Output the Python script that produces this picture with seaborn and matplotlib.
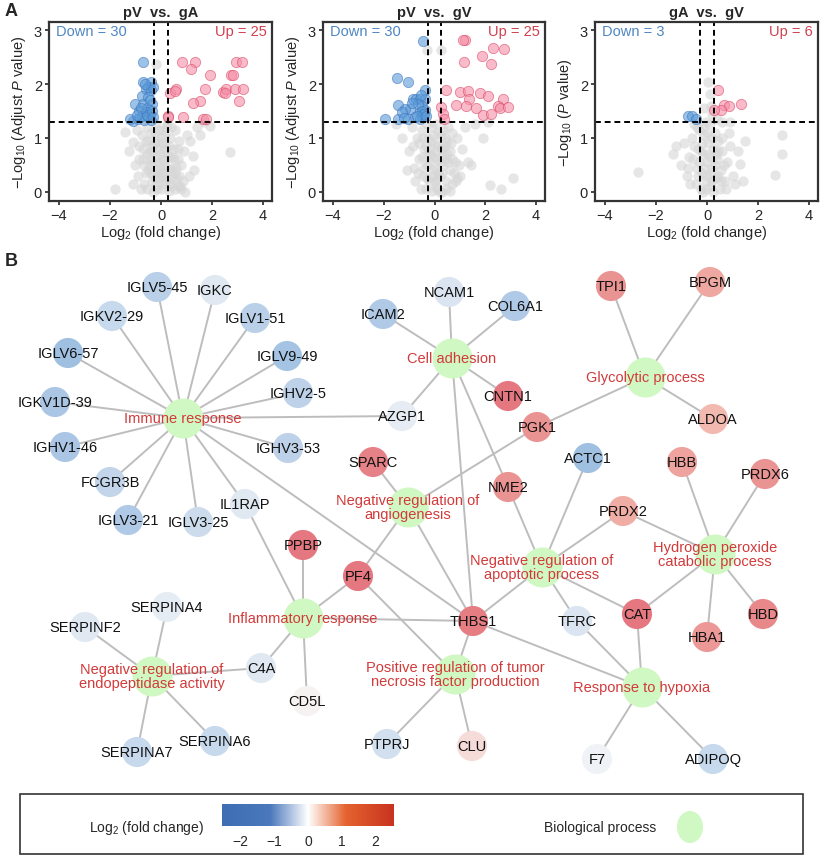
import numpy as np
import pandas as pd
import seaborn as sns
import matplotlib.pyplot as plt
from matplotlib.colors import LinearSegmentedColormap, Normalize
from matplotlib.cm import ScalarMappable
from matplotlib.patches import Rectangle, Ellipse

# ---------- DATA: volcano plots (log2 fold change, -log10 p) ----------
pva_down = [(-0.7, 2.4), (-0.7, 2.03), (-0.4, 2.03), (-0.5, 1.95), (-0.6, 1.9), (-0.4, 1.88),
            (-0.75, 1.78), (-0.5, 1.75), (-1.0, 1.63), (-0.7, 1.62), (-0.35, 1.62), (-0.55, 1.55),
            (-0.85, 1.5), (-0.6, 1.48), (-0.45, 1.45), (-1.1, 1.32), (-0.75, 1.4), (-0.5, 1.38),
            (-0.9, 1.35), (-0.65, 1.33), (-0.4, 1.33), (-0.55, 1.42), (-0.35, 1.5), (-0.8, 1.55),
            (-1.2, 1.35), (-0.3, 1.95), (-0.62, 2.0), (-0.45, 1.7), (-0.95, 1.42), (-0.3, 1.38)]
pva_up = [(0.84, 2.4), (1.32, 2.4), (1.19, 2.27), (2.95, 2.4), (3.19, 2.4), (1.91, 2.16),
          (2.76, 2.17), (2.82, 2.17), (0.34, 1.84), (0.6, 1.9), (0.54, 1.87), (1.71, 1.9),
          (2.43, 1.85), (2.56, 1.9), (2.89, 1.9), (3.22, 1.9), (2.52, 1.83), (1.52, 1.68),
          (1.25, 1.64), (3.06, 1.68), (0.27, 1.41), (0.86, 1.38), (1.65, 1.35), (1.78, 1.35),
          (0.27, 1.38)]
pva_ns = [(-0.18, 2.38), (-1.82, 0.06), (-1.42, 1.11), (-1.1, 0.92), (-1.25, 0.75), (-0.95, 1.15),
          (-0.85, 0.85), (-0.75, 1.05), (-0.7, 0.6), (-0.6, 0.95), (-0.55, 1.2), (-0.5, 0.4),
          (-0.45, 0.75), (-0.4, 1.1), (-0.35, 0.2), (-0.3, 0.55), (-0.25, 0.9), (-0.2, 1.25),
          (-0.15, 0.05), (-0.1, 0.35), (-0.05, 0.7), (0.0, 1.0), (0.05, 0.15), (0.1, 0.5),
          (0.15, 0.85), (0.2, 1.2), (0.25, 0.3), (0.3, 0.65), (0.35, 1.0), (0.4, 0.1),
          (0.45, 0.45), (0.5, 0.8), (0.55, 1.15), (0.6, 0.25), (0.65, 0.6), (0.7, 0.95),
          (0.8, 0.49), (0.93, 0.0), (1.25, 0.67), (1.52, 1.05), (1.91, 1.23), (2.69, 0.73),
          (1.1, 0.3), (1.4, 1.2), (0.85, 0.2), (-0.9, 0.3), (-1.0, 0.5), (-0.65, 0.15),
          (-0.8, 0.05), (-0.55, 0.05), (-0.3, 0.0), (0.0, 0.05), (0.3, 0.02), (0.55, 0.05),
          (0.75, 0.1), (-0.4, 0.6), (-0.2, 0.4), (0.1, 0.8), (-0.1, 1.15), (0.25, 0.7),
          (-0.6, 0.35), (0.45, 0.25), (0.2, 0.45), (-0.05, 0.25), (0.6, 0.45), (0.7, 0.3),
          (-0.35, 0.85), (0.05, 0.6), (-0.15, 0.65), (0.35, 0.4), (0.9, 0.75), (1.0, 1.05),
          (-0.7, 0.8), (0.15, 1.05), (-0.25, 1.1), (0.4, 1.2), (1.7, 1.3), (1.15, 0.95),
          (-1.1, 0.15), (-0.45, 0.5), (0.5, 0.6), (-0.05, 0.45), (0.65, 0.1), (0.0, 0.3),
          (-0.5, 0.95), (-0.3, 0.75), (-0.15, 0.95), (0.05, 0.35), (0.15, 0.2), (0.3, 0.85),
          (0.45, 0.65), (-0.25, 0.25), (-0.4, 0.35), (0.1, 1.15), (-0.1, 0.55), (0.2, 0.6),
          (0.55, 0.35), (-0.55, 0.7), (0.35, 0.15), (-0.2, 0.1), (0.05, 0.9), (0.65, 0.8),
          (-0.65, 0.5), (0.25, 1.25), (1.3, 0.4), (-0.85, 0.6), (0.8, 0.05), (-0.1, 0.8)]

pvv_down = [(-0.44, 2.8), (-1.46, 2.11), (-1.03, 2.04), (-0.38, 1.89), (-0.84, 1.73), (-0.71, 1.73),
            (-0.58, 1.73), (-0.38, 1.73), (-1.42, 1.61), (-0.97, 1.54), (-0.48, 1.6), (-0.58, 1.48),
            (-0.51, 1.43), (-1.95, 1.35), (-1.42, 1.36), (-1.03, 1.35), (-0.77, 1.38), (-0.44, 1.38),
            (-0.58, 1.35), (-0.38, 1.52), (-1.16, 1.54), (-1.29, 1.48), (-0.65, 1.62), (-0.9, 1.65),
            (-0.5, 1.5), (-0.42, 1.45), (-0.7, 1.4), (-1.2, 1.37), (-0.55, 1.8), (-0.33, 1.4)]
pvv_up = [(1.19, 2.82), (1.12, 2.82), (1.15, 2.41), (1.88, 2.52), (2.24, 2.37), (2.3, 2.67),
          (2.73, 2.64), (0.47, 1.89), (0.99, 1.86), (1.32, 1.87), (1.36, 1.73), (1.78, 1.83),
          (2.1, 1.78), (2.69, 1.73), (0.84, 1.61), (1.23, 1.6), (1.65, 1.55), (1.91, 1.43),
          (2.24, 1.44), (2.5, 1.59), (2.59, 1.55), (2.89, 1.57), (0.27, 1.57), (0.34, 1.44),
          (0.38, 1.36)]
pvv_ns = [(-0.29, 2.63), (0.27, 2.63), (3.08, 0.25), (2.63, 0.06), (2.17, 0.12), (1.45, 0.49),
          (-1.29, 0.99), (-1.0, 0.75), (-0.9, 1.2), (-1.5, 1.25), (-0.8, 0.45), (-0.7, 1.0),
          (-0.6, 0.6), (-0.5, 1.15), (-0.45, 0.3), (-0.4, 0.8), (-0.35, 0.05), (-0.3, 0.5),
          (-0.25, 1.0), (-0.2, 0.2), (-0.15, 0.7), (-0.1, 1.2), (-0.05, 0.4), (0.0, 0.9),
          (0.05, 0.1), (0.1, 0.6), (0.15, 1.1), (0.2, 0.3), (0.25, 0.8), (0.3, 0.0),
          (0.35, 0.5), (0.4, 1.0), (0.45, 0.2), (0.5, 0.7), (0.55, 1.2), (0.6, 0.4),
          (0.65, 0.9), (0.7, 0.15), (0.8, 0.55), (0.9, 1.0), (1.0, 0.3), (1.1, 0.8),
          (1.2, 1.2), (1.3, 0.55), (0.75, 0.35), (-0.55, 0.05), (-0.75, 0.2), (0.6, 0.02),
          (0.45, 0.05), (0.2, 0.0), (-0.1, 0.02), (-0.6, 0.9), (0.3, 0.65), (-0.2, 0.55),
          (0.05, 0.75), (-0.4, 0.45), (0.15, 0.35), (0.55, 0.55), (-0.05, 1.05), (0.35, 1.15),
          (0.95, 0.5), (1.6, 1.25), (1.9, 1.0), (2.1, 1.3), (-0.3, 1.25), (0.7, 1.1),
          (-1.1, 0.4), (0.85, 0.2), (0.4, 0.85), (-0.15, 0.95), (0.0, 0.45), (0.1, 0.25),
          (-0.5, 0.65), (0.25, 1.05), (0.6, 0.75), (-0.35, 0.85), (-0.2, 0.8), (0.0, 0.2),
          (0.15, 0.85), (-0.45, 1.0), (-0.1, 0.3), (0.3, 0.35), (0.45, 0.6), (-0.3, 0.25),
          (0.05, 1.25), (0.2, 0.55), (-0.05, 0.65), (0.5, 0.95), (-0.65, 0.35), (0.1, 0.05),
          (0.35, 0.8), (-0.25, 0.7), (0.7, 0.6), (-0.85, 0.85), (0.9, 0.25)]

gvv_down = [(-0.76, 1.41), (-0.57, 1.4), (-0.43, 1.36)]
gvv_up = [(0.42, 1.88), (0.68, 1.61), (0.88, 1.6), (1.34, 1.62), (0.55, 1.52), (0.29, 1.51)]
gvv_ns = [(0.03, 2.03), (0.1, 1.82), (-0.1, 1.55), (0.15, 1.6), (0.2, 1.45), (-2.7, 0.36),
          (-1.35, 0.71), (2.92, 1.05), (2.95, 0.71), (2.66, 0.31), (1.47, 0.94), (1.28, 0.52),
          (0.9, 1.3), (0.6, 1.3), (-0.9, 0.9), (-1.0, 0.5), (-0.8, 0.3), (-0.7, 0.65),
          (-0.6, 1.0), (-0.5, 1.25), (-0.45, 0.15), (-0.4, 0.45), (-0.35, 0.8), (-0.3, 1.15),
          (-0.25, 0.05), (-0.2, 0.35), (-0.15, 0.7), (-0.1, 1.05), (-0.05, 0.2), (0.0, 0.55),
          (0.05, 0.9), (0.1, 1.25), (0.15, 0.1), (0.2, 0.45), (0.25, 0.8), (0.3, 1.1),
          (0.35, 0.25), (0.4, 0.6), (0.45, 0.95), (0.5, 0.05), (0.55, 0.4), (0.6, 0.75),
          (0.7, 0.2), (0.8, 0.55), (0.9, 0.85), (1.0, 0.3), (1.1, 0.15), (0.75, 0.05),
          (-0.55, 0.6), (-0.15, 0.0), (0.25, 0.0), (0.0, 0.3), (-0.3, 0.55), (0.35, 0.7),
          (0.1, 0.65), (-0.2, 0.9), (0.2, 1.0), (0.45, 0.3), (-0.65, 0.15), (0.65, 0.5),
          (-1.2, 0.85), (1.2, 0.75), (0.85, 1.1), (-0.05, 1.3), (0.4, 1.35), (-0.4, 1.2),
          (1.4, 0.2), (-0.35, 0.3), (-0.1, 0.45), (0.05, 0.7), (0.2, 0.2), (0.3, 0.5),
          (-0.25, 0.75), (0.0, 1.1), (-0.5, 0.85), (0.15, 0.35), (0.55, 0.2), (-0.75, 0.45),
          (0.45, 0.75), (-0.15, 1.2), (0.6, 1.0), (-0.05, 0.05)]

volcano_titles = ["pV  vs.  gA", "pV  vs.  gV", "gA  vs.  gV"]
volcano_ylabels = [r"$-$Log$_{10}$ (Adjust $\it{P}$ value)",
                   r"$-$Log$_{10}$ (Adjust $\it{P}$ value)",
                   r"$-$Log$_{10}$ ($\it{P}$ value)"]
down_counts = [30, 30, 3]
up_counts = [25, 25, 6]

# ---------- DATA: network (layout positions + log2 fold change) ----------
gene_names = ["IGLV5-45", "IGKC", "IGKV2-29", "IGLV1-51", "IGLV6-57", "IGLV9-49", "IGKV1D-39",
              "IGHV2-5", "IGHV1-46", "IGHV3-53", "FCGR3B", "IGLV3-21", "IGLV3-25", "IL1RAP",
              "ICAM2", "AZGP1", "SPARC", "NCAM1", "COL6A1", "CNTN1", "PGK1", "TPI1", "BPGM",
              "ALDOA", "ACTC1", "HBB", "PRDX6", "NME2", "PRDX2", "PPBP", "PF4", "SERPINA4",
              "SERPINF2", "C4A", "CD5L", "SERPINA7", "SERPINA6", "PTPRJ", "THBS1", "TFRC",
              "CAT", "HBD", "HBA1", "CLU", "F7", "ADIPOQ"]
gene_x = [157, 215, 112, 255, 68, 287, 55, 298, 65, 288, 110, 128, 198, 245,
          383, 402, 373, 449, 515, 508, 537, 611, 710, 713, 588, 682, 765, 508,
          623, 303, 358, 167, 85, 261, 307, 137, 215, 387, 473, 577, 637, 763,
          707, 472, 597, 713]
gene_y = [288, 291, 317, 319, 354, 357, 403, 394, 448, 449, 483, 521, 523, 505,
          315, 417, 463, 293, 307, 397, 428, 287, 283, 420, 459, 463, 475, 488,
          512, 546, 577, 608, 628, 669, 702, 753, 742, 745, 622, 622, 615, 615,
          638, 747, 760, 760]
gene_fc = [-1.3, -0.5, -1.0, -1.3, -1.8, -1.7, -1.6, -1.2, -1.6, -1.2, -1.1, -1.5, -0.9, -0.5,
           -1.5, -0.4, 2.0, -0.6, -1.5, 2.2, 1.7, 1.7, 1.3, 1.0, -1.8, 1.4, 1.7, 1.7,
           1.2, 2.2, 2.2, -0.4, -0.5, -0.5, 0.1, -1.0, -1.0, -0.8, 2.1, -0.6,
           2.2, 1.9, 1.6, 0.45, -0.2, -1.0]

process_names = ["Immune response", "Cell adhesion", "Glycolytic process",
                 "Negative regulation of\nangiogenesis", "Negative regulation of\napoptotic process",
                 "Hydrogen peroxide\ncatabolic process", "Inflammatory response",
                 "Negative regulation of\nendopeptidase activity",
                 "Positive regulation of tumor\nnecrosis factor production", "Response to hypoxia"]
process_x = [183, 452, 645, 408, 542, 715, 303, 152, 455, 642]
process_y = [419, 359, 378, 508, 568, 555, 619, 677, 675, 688]

edges = [
    ("Immune response", g) for g in ["IGLV5-45", "IGKC", "IGKV2-29", "IGLV1-51", "IGLV6-57",
                                     "IGLV9-49", "IGKV1D-39", "IGHV2-5", "IGHV1-46", "IGHV3-53",
                                     "FCGR3B", "IGLV3-21", "IGLV3-25", "IL1RAP", "AZGP1", "THBS1"]
] + [
    ("Cell adhesion", g) for g in ["ICAM2", "NCAM1", "COL6A1", "CNTN1", "AZGP1", "NME2", "THBS1"]
] + [
    ("Glycolytic process", g) for g in ["TPI1", "BPGM", "ALDOA", "PGK1"]
] + [
    ("Negative regulation of\nangiogenesis", g) for g in ["SPARC", "PGK1", "PF4", "THBS1"]
] + [
    ("Negative regulation of\napoptotic process", g) for g in ["NME2", "ACTC1", "PRDX2", "THBS1", "TFRC", "CAT"]
] + [
    ("Hydrogen peroxide\ncatabolic process", g) for g in ["HBB", "PRDX6", "PRDX2", "CAT", "HBA1", "HBD"]
] + [
    ("Response to hypoxia", g) for g in ["THBS1", "TFRC", "CAT", "F7", "ADIPOQ"]
] + [
    ("Inflammatory response", g) for g in ["IL1RAP", "PPBP", "PF4", "C4A", "CD5L", "THBS1"]
] + [
    ("Positive regulation of tumor\nnecrosis factor production", g) for g in ["THBS1", "PF4", "CLU", "PTPRJ"]
] + [
    ("Negative regulation of\nendopeptidase activity", g) for g in ["SERPINA4", "SERPINF2", "C4A", "SERPINA7", "SERPINA6"]
]

cbar_ticks = [-2, -1, 0, 1, 2]

# ---------- STYLE ----------
sns.set_theme(style="ticks")
plt.rcParams['font.family'] = ['Liberation Sans', 'DejaVu Sans']
plt.rcParams['mathtext.fontset'] = 'custom'
plt.rcParams['mathtext.rm'] = 'Liberation Sans'
plt.rcParams['mathtext.it'] = 'Liberation Sans:italic'
plt.rcParams['mathtext.bf'] = 'Liberation Sans:bold'

W, H = 823, 862
fig = plt.figure(figsize=(W / 100, H / 100), dpi=100)

node_cmap = LinearSegmentedColormap.from_list(
    "nodes", [(0, "#79a7d8"), (0.5, "#f8f8f8"), (0.72, "#f1b1a8"), (1, "#df6270")])
bar_cmap = LinearSegmentedColormap.from_list(
    "bar", [(0, "#3e6db4"), (0.28, "#4a78bb"), (0.5, "#ffffff"), (0.72, "#e4632f"), (1, "#c8321f")])

# ---------- NETWORK ----------
ax_net = fig.add_axes([0, 0, 1, 1], zorder=0)
pos = {n: (x, y) for n, x, y in zip(gene_names, gene_x, gene_y)}
pos.update({n: (x, y) for n, x, y in zip(process_names, process_x, process_y)})

for a, b in edges:
    ax_net.plot([pos[a][0], pos[b][0]], [pos[a][1], pos[b][1]],
                color="#bdbdbd", lw=1.4, zorder=1, solid_capstyle="round")

genes = pd.DataFrame({"x": gene_x, "y": gene_y, "fc": gene_fc})
procs = pd.DataFrame({"x": process_x, "y": process_y})
sns.scatterplot(data=procs, x="x", y="y", color="#d0f8c2", s=830, linewidth=0,
                legend=False, ax=ax_net, zorder=2)
sns.scatterplot(data=genes, x="x", y="y", hue="fc", palette=node_cmap,
                hue_norm=Normalize(-2.6, 2.6), s=470, linewidth=0,
                legend=False, ax=ax_net, zorder=3)

for n, x, y in zip(gene_names, gene_x, gene_y):
    ax_net.text(x, y, n, ha="center", va="center", fontsize=10.5, color="#111111", zorder=4)
for n, x, y in zip(process_names, process_x, process_y):
    ax_net.text(x, y, n, ha="center", va="center", fontsize=10.5, color="#d23a3a",
                linespacing=1.0, zorder=4)

# legend box
ax_net.add_patch(Rectangle((20, 795), 783, 60, fill=False, edgecolor="#333333", lw=1.2))
ax_net.text(147, 828, "Log$_2$ (fold change)", ha="center", va="center", fontsize=10)
ax_net.text(600, 828, "Biological process", ha="center", va="center", fontsize=10)
ax_net.add_patch(Ellipse((690, 828), 26, 32, color="#d0f8c2", lw=0))

ax_net.text(5, 12, "A", fontsize=13, fontweight="bold", ha="left", va="center")
ax_net.text(5, 262, "B", fontsize=13, fontweight="bold", ha="left", va="center")

ax_net.set_xlim(0, W)
ax_net.set_ylim(H, 0)
ax_net.axis("off")

cax = fig.add_axes([222 / W, 1 - 827 / H, 172 / W, 22 / H])
cb = fig.colorbar(ScalarMappable(Normalize(-2.55, 2.55), bar_cmap), cax=cax,
                  orientation="horizontal", ticks=cbar_ticks)
cb.outline.set_visible(False)
cb.ax.set_xticklabels(["\u22122", "\u22121", "0", "1", "2"])
cb.ax.tick_params(direction="in", color="white", length=3, width=0.8,
                  labelsize=10, pad=6)

# ---------- VOLCANO PLOTS ----------
panels = [(pva_down, pva_up, pva_ns), (pvv_down, pvv_up, pvv_ns), (gvv_down, gvv_up, gvv_ns)]
lefts = [49, 323, 595]
widths = [223, 222, 223]
for i, (down, up, ns) in enumerate(panels):
    ax = fig.add_axes([lefts[i] / W, 1 - 202 / H, widths[i] / W, 179 / H], zorder=2)
    ax.set_facecolor("none")
    d_ns = pd.DataFrame(ns, columns=["fc", "p"])
    d_dn = pd.DataFrame(down, columns=["fc", "p"])
    d_up = pd.DataFrame(up, columns=["fc", "p"])
    sns.scatterplot(data=d_ns, x="fc", y="p", color="#d6d6d6", alpha=0.6, s=55,
                    linewidth=0, ax=ax, legend=False)
    sns.scatterplot(data=d_dn, x="fc", y="p", color="#5b9bd8", alpha=0.6, s=55,
                    edgecolor="#3a74bd", linewidth=0.6, ax=ax, legend=False)
    sns.scatterplot(data=d_up, x="fc", y="p", color="#f58fa8", alpha=0.6, s=55,
                    edgecolor="#d9415f", linewidth=0.6, ax=ax, legend=False)
    ax.axvline(-0.263, color="black", ls=(0, (3, 2)), lw=1.4)
    ax.axvline(0.263, color="black", ls=(0, (3, 2)), lw=1.4)
    ax.axhline(1.301, color="black", ls=(0, (3, 2)), lw=1.4)
    ax.set_xlim(-4.39, 4.35)
    ax.set_ylim(-0.17, 3.15)
    ax.set_xticks([-4, -2, 0, 2, 4])
    ax.set_xticklabels(["\u22124", "\u22122", "0", "2", "4"])
    ax.set_yticks([0, 1, 2, 3])
    ax.tick_params(labelsize=10.5, width=1.2, length=3, pad=2)
    for sp in ax.spines.values():
        sp.set_linewidth(1.6)
        sp.set_color("#333333")
    ax.set_title(volcano_titles[i], fontsize=10.5, fontweight="bold", pad=4)
    ax.set_xlabel("Log$_2$ (fold change)", fontsize=10.5, labelpad=1)
    ax.set_ylabel(volcano_ylabels[i], fontsize=10.5, labelpad=4)
    ax.text(-4.1, 2.98, f"Down = {down_counts[i]}", color="#4f86c2", fontsize=10.5,
            ha="left", va="center")
    ax.text(4.15, 2.98, f"Up = {up_counts[i]}", color="#cf3f4e", fontsize=10.5,
            ha="right", va="center")

fig.savefig("out.png", dpi=100)
